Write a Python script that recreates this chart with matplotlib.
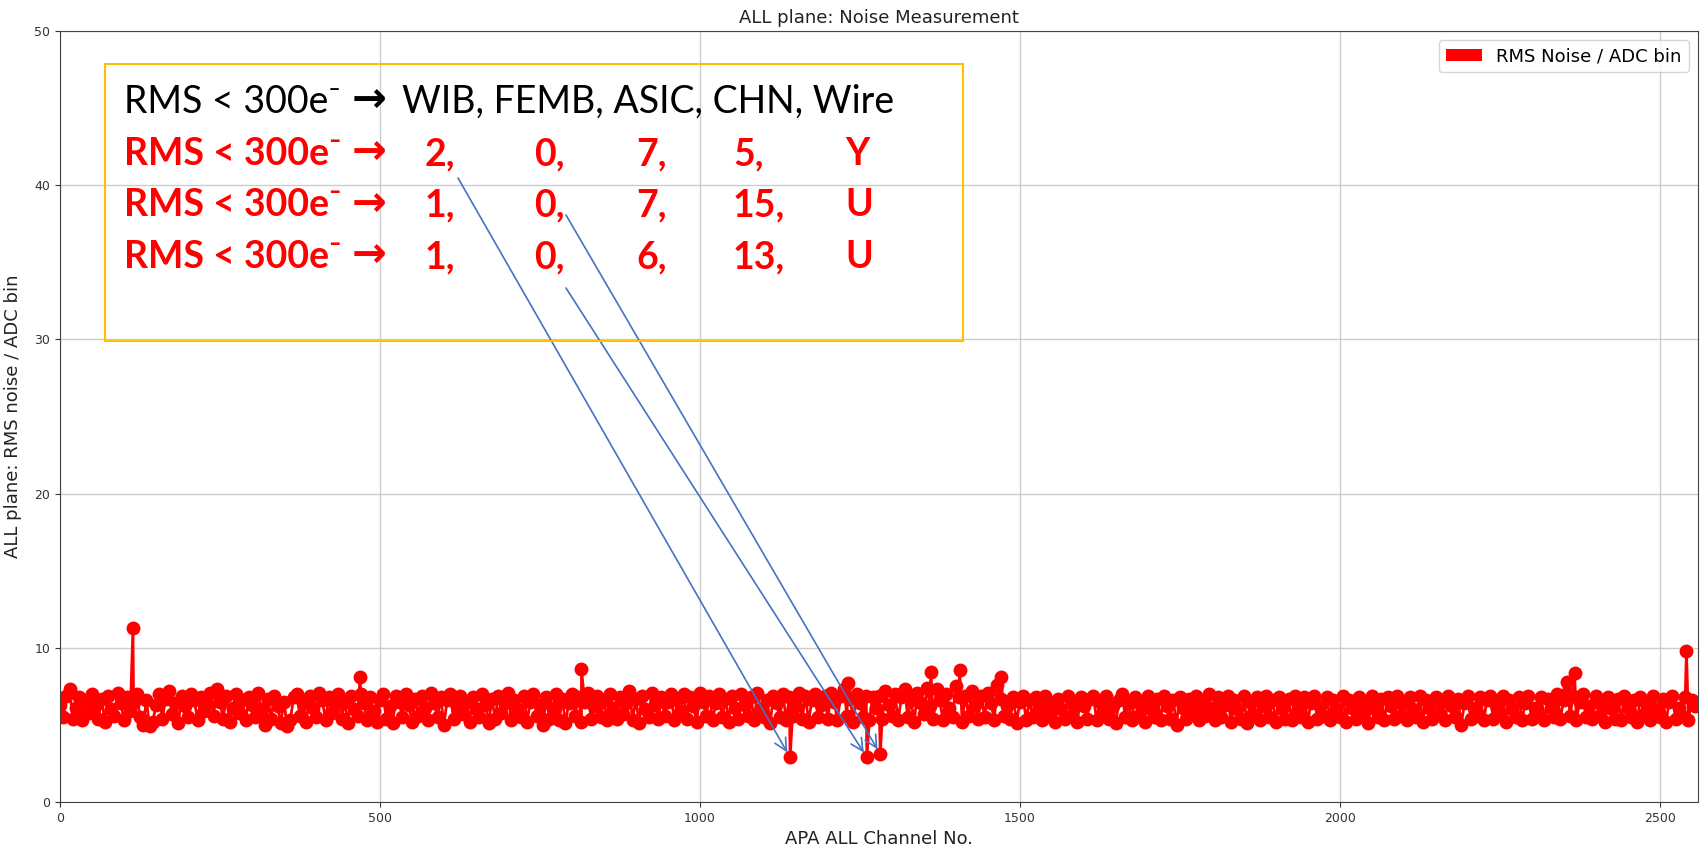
"""APA noise measurement: RMS noise per channel, with the low-noise channels called out"""

import numpy as np
import matplotlib
matplotlib.use("Agg")
import matplotlib.pyplot as plt
from matplotlib.patches import Patch, Rectangle


# RMS noise, one value every 5 channels (0 .. 2555)
base_step = 5
base_rms = [
    6.3, 5.5, 6.9, 7.3, 5.4, 6.1, 6.8, 5.3, 6.6, 5.8, 7.0, 6.2, 5.4, 6.7, 5.2, 6.9,
    6.0, 5.6, 7.1, 6.4, 5.3, 6.8, 5.9, 6.5, 7.0, 5.5, 5.0, 6.6, 4.9, 5.2, 6.3, 7.0,
    5.4, 6.7, 7.2, 5.7, 6.4, 5.1, 6.9, 6.2, 5.5, 7.0, 6.6, 5.3, 6.8, 5.9, 6.4, 7.1,
    5.6, 7.3, 6.5, 5.4, 6.9, 5.2, 6.1, 7.0, 5.8, 6.6, 5.3, 6.8, 6.3, 5.5, 7.1, 6.0,
    5.0, 6.7, 5.4, 6.9, 6.2, 5.1, 6.5, 4.9, 5.3, 6.8, 7.0, 5.6, 6.4, 5.2, 6.9, 6.1,
    5.5, 7.1, 6.6, 5.3, 6.8, 5.8, 6.3, 7.0, 5.4, 6.5, 5.1, 6.9, 6.0, 5.6, 7.0, 6.4,
    5.3, 6.8, 5.9, 5.2, 6.6, 7.0, 5.4, 6.2, 5.1, 6.9, 6.5, 5.5, 7.0, 6.3, 5.2, 6.7,
    5.6, 6.9, 6.1, 5.3, 7.1, 6.4, 5.5, 6.8, 5.0, 6.6, 7.0, 5.4, 6.2, 6.9, 5.7, 6.5,
    5.2, 6.8, 6.0, 5.5, 7.0, 6.3, 5.1, 6.7, 5.4, 6.9, 5.8, 6.4, 7.1, 5.3, 6.6, 6.0,
    5.5, 6.9, 5.2, 6.5, 7.0, 5.6, 6.3, 5.0, 6.8, 5.4, 6.1, 7.0, 5.3, 6.7, 5.1, 6.4,
    7.0, 5.6, 6.8, 5.2, 6.5, 7.1, 5.4, 6.2, 6.9, 5.5, 6.6, 5.3, 7.0, 6.1, 5.4, 6.8,
    5.7, 6.4, 7.2, 5.3, 6.7, 5.1, 6.9, 6.0, 5.5, 7.1, 6.3, 5.4, 6.8, 5.6, 6.5, 7.0,
    5.3, 6.6, 5.9, 7.0, 5.4, 6.8, 6.2, 5.2, 7.1, 6.5, 5.6, 6.9, 5.3, 6.4, 7.0, 5.5,
    6.7, 5.2, 6.9, 6.1, 5.4, 7.0, 6.3, 5.6, 6.8, 5.3, 7.1, 6.0, 5.5, 6.6, 5.1, 6.9,
    6.4, 5.5, 7.0, 5.3, 6.8, 5.6, 6.2, 7.1, 5.4, 6.9, 5.2, 6.6, 7.0, 5.5, 6.3, 6.9,
    5.4, 7.1, 6.5, 5.3, 6.9, 7.3, 5.6, 6.7, 5.2, 7.0, 6.4, 5.5, 6.9, 5.3, 6.8, 6.1,
    6.9, 5.4, 7.2, 6.3, 5.6, 7.0, 5.3, 6.8, 7.3, 5.5, 6.6, 5.2, 7.1, 6.4, 5.7, 7.4,
    6.2, 5.4, 7.3, 6.6, 5.3, 7.0, 6.1, 5.5, 7.5, 6.8, 5.2, 6.9, 5.6, 7.2, 6.3, 5.4,
    6.9, 5.5, 7.1, 6.4, 5.3, 7.6, 6.7, 5.6, 6.2, 5.4, 6.8, 5.1, 6.5, 6.9, 5.3, 6.6,
    5.5, 6.8, 6.1, 5.3, 6.9, 5.7, 6.4, 5.2, 6.7, 6.0, 5.4, 6.9, 5.6, 6.3, 5.2, 6.8,
    6.2, 5.4, 6.7, 6.9, 5.3, 6.5, 5.8, 6.9, 5.4, 6.2, 5.1, 6.6, 7.0, 5.5, 6.4, 5.3,
    6.8, 5.6, 6.3, 5.2, 6.9, 6.0, 5.5, 6.7, 5.3, 6.9, 6.2, 5.4, 6.6, 5.0, 6.8, 6.1,
    5.4, 6.7, 5.9, 6.9, 5.3, 6.4, 5.6, 7.0, 6.1, 5.3, 6.8, 5.5, 6.3, 6.9, 5.2, 6.6,
    6.0, 5.4, 6.9, 5.1, 6.5, 5.7, 6.8, 5.3, 6.2, 6.9, 5.5, 6.6, 5.2, 6.8, 6.0, 5.4,
    6.7, 5.3, 6.9, 6.1, 5.5, 6.8, 5.2, 6.4, 6.9, 5.4, 6.2, 5.6, 6.8, 5.3, 6.6, 6.0,
    5.5, 6.9, 5.2, 6.6, 6.1, 5.4, 6.8, 5.7, 6.3, 5.1, 6.9, 6.0, 5.5, 6.7, 5.3, 6.8,
    6.2, 5.4, 6.9, 5.6, 6.4, 5.3, 6.8, 6.0, 5.5, 6.9, 5.2, 6.6, 6.1, 5.4, 6.8, 5.7,
    6.5, 5.3, 6.9, 6.2, 5.5, 6.7, 5.0, 6.4, 6.9, 5.4, 6.1, 5.6, 6.8, 5.3, 6.6, 6.9,
    5.4, 6.3, 5.7, 6.9, 5.2, 6.6, 6.0, 5.5, 6.8, 5.3, 6.4, 6.9, 5.4, 6.1, 5.6, 6.8,
    5.3, 6.7, 6.1, 5.5, 7.0, 5.4, 6.6, 7.1, 5.6, 6.9, 5.3, 6.5, 7.0, 5.5, 6.2, 5.4,
    6.9, 5.6, 6.3, 5.2, 6.8, 6.0, 5.4, 6.7, 5.3, 6.9, 6.1, 5.5, 6.6, 5.2, 6.8, 5.7,
    6.4, 5.3, 6.9, 6.0, 5.5, 6.7, 5.2, 6.5, 6.9, 5.4, 6.1, 5.6, 6.8, 5.3, 6.6, 6.2,
]

# single channels that stick out of the band
spike_chan = [114, 469, 815, 1141, 1231, 1261, 1282, 1361, 1406, 1471, 2356, 2367, 2542]
spike_rms = [11.3, 8.1, 8.6, 2.9, 7.7, 2.9, 3.1, 8.4, 8.55, 8.1, 7.8, 8.35, 9.8]

# the three low channels the arrows point at
low_chan = [1141, 1282, 1261]
low_rms = [2.9, 3.1, 2.9]

# call-out box text
box_lead = "RMS < 300e\u207b"
box_header = "WIB, FEMB, ASIC, CHN, Wire"
box_rows = [
    ["2,", "0,", "7,", "5,", "Y"],
    ["1,", "0,", "7,", "15,", "U"],
    ["1,", "0,", "6,", "13,", "U"],
]

W, H = 1700, 848


def fx(x):
    return x / W


def fy(y):
    return 1 - y / H


def main():
    chans = np.concatenate([np.arange(len(base_rms)) * base_step, spike_chan])
    rms = np.concatenate([base_rms, spike_rms])
    order = np.argsort(chans)
    chans, rms = chans[order], rms[order]

    fig = plt.figure(figsize=(W / 100, H / 100), dpi=100)
    ax = fig.add_axes([fx(60), fy(802), fx(1698) - fx(60), fy(31) - fy(802)])

    ax.plot(chans, rms, color="red", marker="o", markersize=9, linewidth=2)
    ax.set_xlim(0, 2560)
    ax.set_ylim(0, 50)
    ax.set_xticks([0, 500, 1000, 1500, 2000, 2500])
    ax.set_yticks([0, 10, 20, 30, 40, 50])
    ax.tick_params(labelsize=9, colors="#333333")
    ax.grid(True, color="#cccccc", linewidth=1)
    ax.set_axisbelow(True)
    for s in ax.spines.values():
        s.set_color("#444444")

    ax.set_title("ALL plane: Noise Measurement", fontsize=13, pad=6, color="#222222")
    ax.set_xlabel("APA ALL Channel No.", fontsize=13, labelpad=4, color="#222222")
    ax.set_ylabel("ALL plane: RMS noise / ADC bin", fontsize=13, labelpad=9,
                  color="#222222")

    ax.legend(handles=[Patch(facecolor="red", label="RMS Noise / ADC bin")],
              loc="upper right", fontsize=13, framealpha=0.8)

    # call-out box
    fig.add_artist(Rectangle((fx(105), fy(341)), fx(963) - fx(105), fy(64) - fy(341),
                             transform=fig.transFigure, fill=False,
                             edgecolor="#FFC000", linewidth=1.5))

    fam = ["Lato", "DejaVu Sans"]
    fs = 27
    base_y = 113
    fig.text(fx(124), fy(base_y), box_lead, fontsize=fs, family=fam, va="baseline")
    fig.text(fx(352), fy(base_y - 1), "\u2192", fontsize=30, family="DejaVu Sans",
             fontweight="bold", va="baseline")
    fig.text(fx(402), fy(base_y), box_header, fontsize=fs, family=fam, va="baseline")

    col_x = [425, 534, 636, 733, 845]
    for i, row in enumerate(box_rows):
        y = 165 + i * 51.5
        fig.text(fx(124), fy(y), box_lead, fontsize=fs, family=fam,
                 fontweight="bold", color="red", va="baseline")
        fig.text(fx(352), fy(y - 1), "\u2192", fontsize=30, family="DejaVu Sans",
                 fontweight="bold", color="red", va="baseline")
        for cx, val in zip(col_x, row):
            fig.text(fx(cx), fy(y), val, fontsize=fs, family=fam,
                     fontweight="bold", color="red", va="baseline")

    # arrows from the rows to the low channels
    starts = [(458, 178), (566, 215), (566, 288)]
    for (sx, sy), c, v in zip(starts, low_chan, low_rms):
        ax.annotate("", xy=(c, v), xycoords="data",
                    xytext=(fx(sx), fy(sy)), textcoords="figure fraction",
                    arrowprops=dict(arrowstyle="->", color="#4472C4", lw=1.2,
                                    mutation_scale=22, shrinkA=0, shrinkB=4))

    fig.savefig("out.png", dpi=100)


if __name__ == "__main__":
    main()
